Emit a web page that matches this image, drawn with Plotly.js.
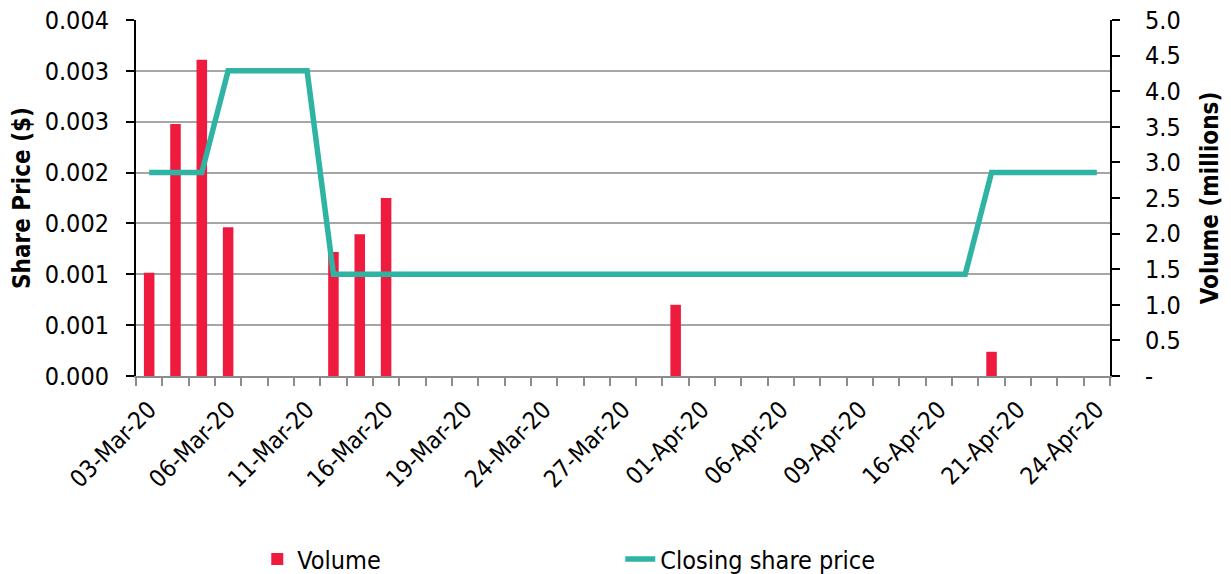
<!DOCTYPE html>
<html>
<head>
<meta charset="utf-8">
<script src="https://cdn.plot.ly/plotly-3.0.1.min.js"></script>
<style>html,body{margin:0;padding:0;background:#fff;}#chart{width:1231px;height:574px;}</style>
</head>
<body>
<div id="chart"></div>
<script>
var dates = ["03-Mar-20","04-Mar-20","05-Mar-20","06-Mar-20","09-Mar-20","10-Mar-20","11-Mar-20","12-Mar-20","13-Mar-20","16-Mar-20","17-Mar-20","18-Mar-20","19-Mar-20","20-Mar-20","23-Mar-20","24-Mar-20","25-Mar-20","26-Mar-20","27-Mar-20","30-Mar-20","31-Mar-20","01-Apr-20","02-Apr-20","03-Apr-20","06-Apr-20","07-Apr-20","08-Apr-20","09-Apr-20","14-Apr-20","15-Apr-20","16-Apr-20","17-Apr-20","20-Apr-20","21-Apr-20","22-Apr-20","23-Apr-20","24-Apr-20"];
var volumeMillions = [1.45,3.54,4.44,2.09,0,0,0,1.74,1.99,2.50,0,0,0,0,0,0,0,0,0,0,1.00,0,0,0,0,0,0,0,0,0,0,0,0.34,0,0,0,0];
var closePrice = [0.002,0.002,0.002,0.003,0.003,0.003,0.003,0.001,0.001,0.001,0.001,0.001,0.001,0.001,0.001,0.001,0.001,0.001,0.001,0.001,0.001,0.001,0.001,0.001,0.001,0.001,0.001,0.001,0.001,0.001,0.001,0.001,0.002,0.002,0.002,0.002,0.002];
var labelEvery = 3;
var priceTickVals = [0,0.0005,0.001,0.0015,0.002,0.0025,0.003,0.0035];
var priceTickText = ["0.000","0.001","0.001","0.002","0.002","0.003","0.003","0.004"];
var volTickVals = [0,0.5,1,1.5,2,2.5,3,3.5,4,4.5,5];
var volTickText = ["-","0.5","1.0","1.5","2.0","2.5","3.0","3.5","4.0","4.5","5.0"];

var xTickText = dates.map(function(d,i){ return i % labelEvery === 0 ? d : ""; });
var FONT = "DejaVu Sans Condensed, DejaVu Sans, sans-serif";

var traces = [
  {type:"bar", name:"Volume", x:dates, y:volumeMillions, yaxis:"y",
   marker:{color:"#EE1B3F"}, hoverinfo:"x+y"},
  {type:"scatter", mode:"lines", name:"Closing share price", x:dates, y:closePrice, yaxis:"y2",
   line:{color:"#2FB3A3", width:5.5}}
];

var layout = {
  width:1231, height:574,
  margin:{l:136, r:121, t:20, b:198, autoexpand:false},
  paper_bgcolor:"#fff", plot_bgcolor:"#fff",
  font:{family:FONT, size:25, color:"#000"},
  bargap:0.6,
  showlegend:true,
  legend:{orientation:"h", x:0.1245, y:-0.515, xanchor:"left", yanchor:"middle",
          entrywidth:318, entrywidthmode:"pixels", font:{size:25, family:FONT}, traceorder:"normal"},
  xaxis:{type:"category", tickmode:"array", tickvals:dates, ticktext:xTickText,
         tickson:"boundaries", ticks:"outside", ticklen:8, tickcolor:"#8c8c8c", tickwidth:2,
         showline:true, linecolor:"#8c8c8c", linewidth:2, showgrid:false, ticklabelstandoff:8,
         tickangle:-45, tickfont:{size:24, family:FONT}, range:[-0.5,36.5]},
  yaxis:{side:"right", range:[0,5], tickmode:"array", tickvals:volTickVals, ticktext:volTickText,
         showgrid:false, zeroline:false, showline:true, linecolor:"#000", linewidth:2,
         ticks:"outside", ticklen:8, tickcolor:"#000", tickwidth:2, ticklabelstandoff:20,
         tickfont:{size:25, family:FONT},
         title:{text:"<b>Volume (millions)</b>", font:{size:24, family:FONT}, standoff:21}},
  yaxis2:{overlaying:"y", side:"left", range:[0,0.0035], tickmode:"array",
          tickvals:priceTickVals, ticktext:priceTickText,
          showgrid:true, gridcolor:"#a6a6a6", gridwidth:2, zeroline:false,
          showline:true, linecolor:"#000", linewidth:2, ticklabelstandoff:12,
          ticks:"outside", ticklen:8, tickcolor:"#000", tickwidth:2, tickfont:{size:25, family:FONT},
          title:{text:"<b>Share Price ($)</b>", font:{size:24, family:FONT}, standoff:7}}
};

Plotly.newPlot("chart", traces, layout, {displayModeBar:false, staticPlot:true});
</script>
</body>
</html>
